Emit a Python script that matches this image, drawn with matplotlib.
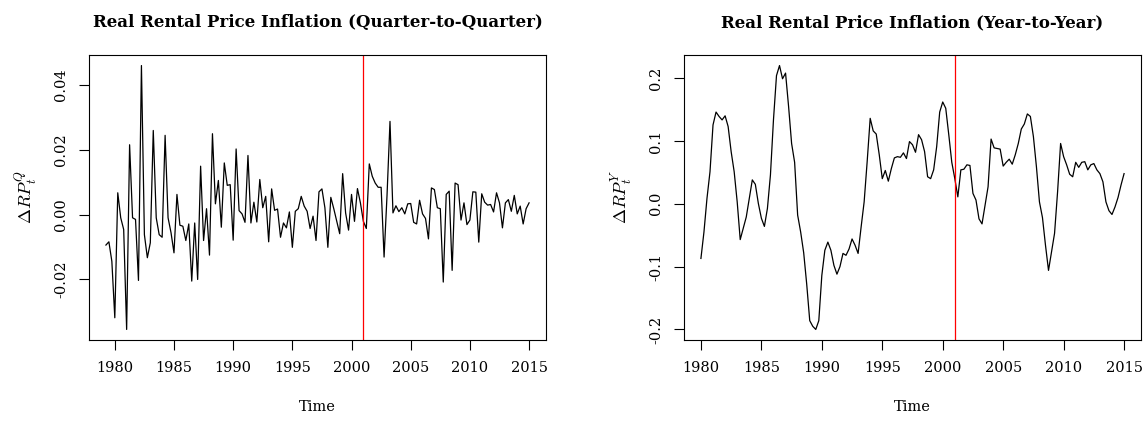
"""Real rental price inflation, quarter-to-quarter and year-to-year."""
import numpy as np
import matplotlib
matplotlib.use("Agg")
import matplotlib.pyplot as plt

# quarterly series, first obs 1979Q2
qq_start = 1979.25
qq_values = [
    -0.0094, -0.0084, -0.0144, -0.0318, 0.0067, -0.0010, -0.0046, -0.0354, 0.0215, -0.0010,
    -0.0015, -0.0203, 0.0459, -0.0062, -0.0133, -0.0087, 0.0259, -0.0010, -0.0062, -0.0070,
    0.0244, -0.0010, -0.0056, -0.0118, 0.0062, -0.0033, -0.0036, -0.0080, -0.0029, -0.0205,
    -0.0026, -0.0200, 0.0149, -0.0080, 0.0018, -0.0125, 0.0249, 0.0033, 0.0105, -0.0039,
    0.0159, 0.0090, 0.0092, -0.0079, 0.0202, 0.0012, 0.0002, -0.0024, 0.0182, -0.0026,
    0.0038, -0.0023, 0.0108, 0.0021, 0.0056, -0.0084, 0.0079, 0.0013, 0.0017, -0.0070,
    -0.0026, -0.0041, 0.0008, -0.0101, 0.0010, 0.0018, 0.0056, 0.0026, 0.0010, -0.0043,
    -0.0005, -0.0080, 0.0070, 0.0079, 0.0021, -0.0101, 0.0053, 0.0018, -0.0021, -0.0059,
    0.0126, 0.0005, -0.0048, 0.0062, -0.0021, 0.0080, 0.0036, -0.0021, -0.0043, 0.0156,
    0.0118, 0.0097, 0.0084, 0.0084, -0.0131, 0.0060, 0.0287, 0.0005, 0.0027, 0.0009,
    0.0021, 0.0002, 0.0033, 0.0034, -0.0024, -0.0029, 0.0044, 0.0002, -0.0012, -0.0075,
    0.0082, 0.0077, 0.0021, 0.0018, -0.0208, 0.0062, 0.0072, -0.0172, 0.0097, 0.0092,
    -0.0017, 0.0036, -0.0031, -0.0017, 0.0070, 0.0069, -0.0085, 0.0064, 0.0038, 0.0029,
    0.0031, 0.0008, 0.0067, 0.0036, -0.0041, 0.0036, 0.0046, 0.0010, 0.0059, 0.0002,
    0.0026, -0.0029, 0.0018, 0.0036,
]

# year-to-year series, first obs 1980Q1
yy_start = 1980.0
yy_values = [
    -0.087, -0.045, 0.0085, 0.051, 0.1255, 0.146, 0.139, 0.1335, 0.140, 0.123,
    0.083, 0.051, 0.003, -0.057, -0.039, -0.021, 0.0085, 0.038, 0.031, 0.0005,
    -0.023, -0.036, -0.0074, 0.046, 0.1335, 0.204, 0.220, 0.199, 0.208, 0.155,
    0.096, 0.066, -0.018, -0.045, -0.078, -0.128, -0.186, -0.195, -0.200, -0.186,
    -0.114, -0.074, -0.061, -0.074, -0.098, -0.112, -0.100, -0.079, -0.082, -0.072,
    -0.056, -0.066, -0.079, -0.037, 0.003, 0.067, 0.136, 0.116, 0.111, 0.078,
    0.040, 0.053, 0.036, 0.056, 0.073, 0.075, 0.074, 0.081, 0.072, 0.099,
    0.094, 0.082, 0.110, 0.102, 0.083, 0.043, 0.040, 0.054, 0.091, 0.146,
    0.162, 0.152, 0.110, 0.066, 0.040, 0.011, 0.054, 0.055, 0.062, 0.061,
    0.0165, 0.006, -0.024, -0.032, -0.002, 0.027, 0.103, 0.089, 0.088, 0.087,
    0.060, 0.066, 0.071, 0.063, 0.078, 0.096, 0.119, 0.127, 0.143, 0.139,
    0.107, 0.059, 0.003, -0.022, -0.066, -0.106, -0.077, -0.047, 0.019, 0.096,
    0.075, 0.062, 0.047, 0.043, 0.066, 0.058, 0.066, 0.067, 0.054, 0.062,
    0.064, 0.054, 0.048, 0.035, 0.003, -0.011, -0.017, -0.005, 0.010, 0.030,
    0.048,
]

break_year = 2001
year_ticks = [1980, 1985, 1990, 1995, 2000, 2005, 2010, 2015]
qq_yticks = [-0.02, 0.00, 0.02, 0.04]
qq_ylabels = ["-0.02", "0.00", "0.02", "0.04"]
yy_yticks = [-0.2, -0.1, 0.0, 0.1, 0.2]
yy_ylabels = ["-0.2", "-0.1", "0.0", "0.1", "0.2"]

plt.rcParams["font.family"] = "DejaVu Serif"
plt.rcParams["mathtext.fontset"] = "cm"


def panel(fig, rect, start, values, title, ylab, yticks, ylabels):
    ax = fig.add_axes(rect)
    t = start + 0.25 * np.arange(len(values))
    ax.plot(t, values, color="black", lw=0.9)
    ax.axvline(break_year, color="red", lw=0.9)
    ax.margins(x=0.04, y=0.04)
    ax.set_xticks(year_ticks)
    ax.set_yticks(yticks)
    ax.set_yticklabels(ylabels, rotation=90, va="center")
    ax.tick_params(direction="out", length=7, width=0.8, labelsize=10.5, pad=8)
    for s in ax.spines.values():
        s.set_linewidth(0.8)
    ax.set_title(title, fontsize=12, fontweight="bold", pad=20)
    ax.set_xlabel("Time", fontsize=10.5, labelpad=18)
    ax.set_ylabel(ylab, fontsize=13, labelpad=10)
    return ax


fig = plt.figure(figsize=(11.48, 4.21), dpi=100)
W, H = 1148, 421
panel(fig, [89 / W, 81 / H, 457 / W, 285 / H], qq_start, qq_values,
      "Real Rental Price Inflation (Quarter-to-Quarter)", r"$\Delta RP_t^Q$",
      qq_yticks, qq_ylabels)
panel(fig, [684 / W, 81 / H, 457 / W, 285 / H], yy_start, yy_values,
      "Real Rental Price Inflation (Year-to-Year)", r"$\Delta RP_t^Y$",
      yy_yticks, yy_ylabels)
fig.savefig("out.png", dpi=100)
